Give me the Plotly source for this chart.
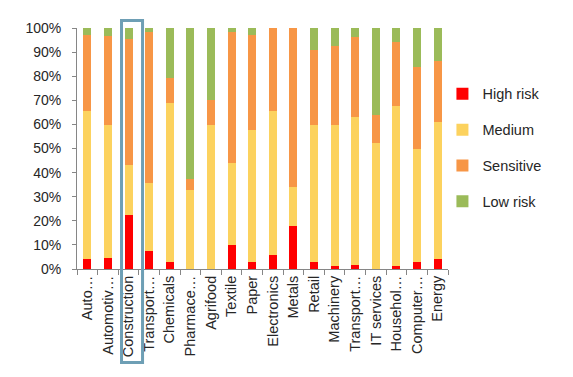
import plotly.graph_objects as go

categories = ["Auto…", "Automotiv…", "Construction", "Transport…", "Chemicals", "Pharmace…",
              "Agrifood", "Textile", "Paper", "Electronics", "Metals", "Retail", "Machinery",
              "Transport…", "IT services", "Househol…", "Computer…", "Energy"]
high_risk = [4.1, 4.6, 22.4, 7.6, 3.0, 0.0, 0.0, 10.0, 2.9, 5.8, 17.8, 2.9, 1.2, 1.7, 0.0, 1.2, 2.9, 4.1]
medium    = [61.5, 55.2, 20.8, 28.1, 66.0, 32.8, 59.8, 34.0, 54.8, 59.8, 16.2, 56.9, 58.6, 61.4, 52.3, 66.4, 46.9, 56.9]
sensitive = [31.5, 37.0, 52.2, 62.8, 10.4, 4.5, 10.5, 54.5, 39.4, 34.4, 66.0, 31.1, 32.9, 33.2, 11.6, 26.6, 34.0, 25.3]
low_risk  = [2.9, 3.2, 4.6, 1.5, 20.6, 62.7, 29.7, 1.5, 2.9, 0.0, 0.0, 9.1, 7.3, 3.7, 36.1, 5.8, 16.2, 13.7]
y_ticks = [0, 10, 20, 30, 40, 50, 60, 70, 80, 90, 100]
highlight_index = 2

series = [("High risk", high_risk, "#FF0000"),
          ("Medium", medium, "#FCD25E"),
          ("Sensitive", sensitive, "#F79646"),
          ("Low risk", low_risk, "#9BBB59")]

xs = list(range(len(categories)))
FONT = "Liberation Sans, Arial, sans-serif"
TXT = "#262626"
AX = "#868686"

fig = go.Figure()
for rank, (name, vals, col) in enumerate(series):
    fig.add_trace(go.Bar(x=xs, y=[v / 100 for v in vals], name=name, marker_color=col,
                         marker_line_width=0, legendgroup=name, legendrank=rank + 1))

fig.update_layout(
    barmode="stack", bargap=0.61,
    width=573, height=377,
    margin=dict(l=77, r=125, t=28, b=108, pad=0),
    paper_bgcolor="white", plot_bgcolor="white",
    font=dict(family=FONT, size=14.5, color=TXT),
    showlegend=True,
    legend=dict(x=0.985, xanchor="left", y=0.793, yanchor="top", traceorder="grouped",
                tracegroupgap=14, font=dict(size=14.5, color=TXT), itemwidth=30,
                bgcolor="rgba(0,0,0,0)"),
    xaxis=dict(range=[-0.5, len(categories) - 0.5], tickmode="array", tickvals=xs,
               ticktext=categories, tickangle=-90, ticks="", showgrid=False, zeroline=False,
               showline=True, linecolor=AX, linewidth=1,
               minor=dict(tickmode="array", tickvals=[i - 0.5 for i in range(len(categories) + 1)],
                          ticks="outside", ticklen=5, tickcolor=AX, showgrid=False),
               tickfont=dict(size=14.5, color=TXT)),
    yaxis=dict(range=[0, 1], tickmode="array", tickvals=[t / 100 for t in y_ticks],
               ticktext=[f"{t}%" for t in y_ticks], ticks="outside", ticklen=4, tickcolor=AX,
               showgrid=False, zeroline=False, showline=True, linecolor=AX, linewidth=1,
               tickfont=dict(size=14, color=TXT), ticklabelstandoff=8),
)

fig.add_shape(type="rect", xref="x", yref="paper",
              x0=highlight_index - 0.34, x1=highlight_index + 0.68,
              y0=-0.388, y1=1.031, line=dict(color="#6E9FB5", width=3),
              fillcolor="rgba(0,0,0,0)", layer="above")

fig.write_html("out.html", config={"displayModeBar": False},
               post_script="document.body.style.margin='0';")
